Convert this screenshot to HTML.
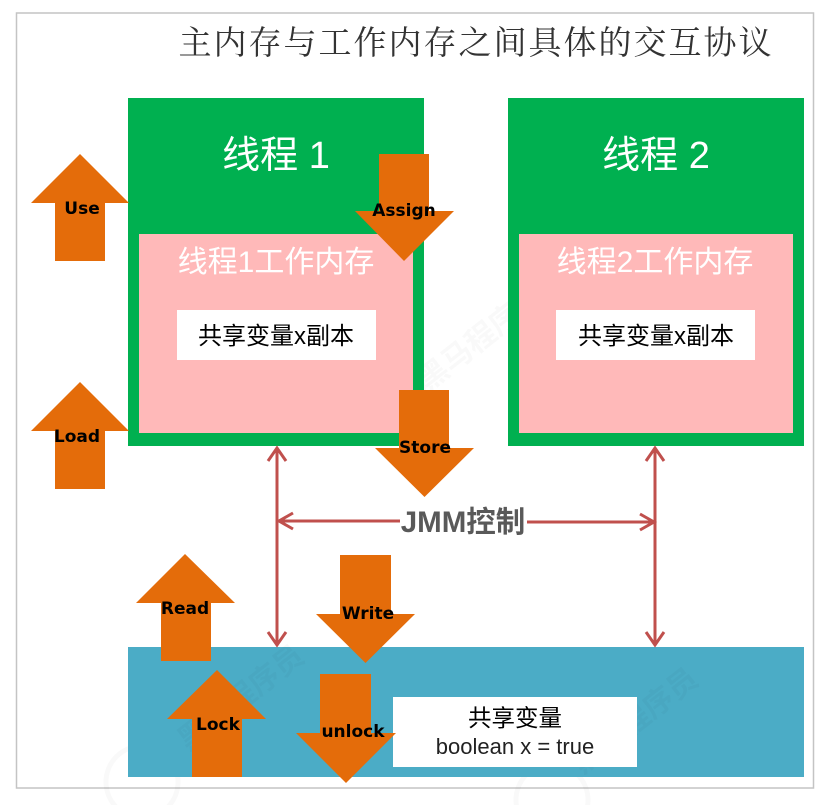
<!DOCTYPE html>
<html lang="zh">
<head>
<meta charset="utf-8">
<style>
html,body{margin:0;padding:0;background:#fff;width:830px;height:805px;overflow:hidden}
svg{display:block}
text{font-family:"Liberation Sans","Noto Sans CJK SC",sans-serif}
.lb{font-size:17px;font-weight:bold;fill:#000;text-anchor:middle;font-family:"DejaVu Sans","Liberation Sans",sans-serif}
.m{text-anchor:middle}
</style>
</head>
<body>
<svg width="830" height="805" viewBox="0 0 830 805" xmlns="http://www.w3.org/2000/svg">
<rect x="16.500" y="13" width="797" height="775" fill="#fff" stroke="#c4c4c4" stroke-width="1.500"/>
<text x="476" y="54" class="m" font-size="33" fill="#333" style="font-family:'Noto Serif CJK SC','Liberation Serif',serif;letter-spacing:2px">主内存与工作内存之间具体的交互协议</text>

<g opacity="0.5">
<circle cx="388" cy="395" r="36" fill="none" stroke="#000" stroke-opacity="0.05" stroke-width="5"/>
<text transform="translate(428,392) rotate(-38)" font-size="30" font-weight="bold" fill="#000" fill-opacity="0.05">黑马程序员</text>
<circle cx="552" cy="800" r="36" fill="none" stroke="#000" stroke-opacity="0.05" stroke-width="5"/>
<circle cx="142" cy="782" r="36" fill="none" stroke="#000" stroke-opacity="0.05" stroke-width="5"/>
</g>

<rect x="128" y="98" width="296" height="348" fill="#00b050"/>
<rect x="139" y="234" width="274" height="199" fill="#ffb9b9"/>
<text x="276" y="168" class="m" font-size="38" fill="#fff">线程 1</text>
<text x="276" y="272" class="m" font-size="30" fill="#fff">线程1工作内存</text>
<rect x="177" y="310" width="199" height="50" fill="#fff"/>
<text x="276" y="344" class="m" font-size="24" fill="#000">共享变量x副本</text>

<rect x="508" y="98" width="296" height="348" fill="#00b050"/>
<rect x="519" y="234" width="274" height="199" fill="#ffb9b9"/>
<text x="656" y="168" class="m" font-size="38" fill="#fff">线程 2</text>
<text x="655" y="272" class="m" font-size="30" fill="#fff">线程2工作内存</text>
<rect x="556" y="310" width="199" height="50" fill="#fff"/>
<text x="656" y="344" class="m" font-size="24" fill="#000">共享变量x副本</text>

<rect x="128" y="647" width="676" height="130" fill="#4bacc6"/>
<g fill="#000" fill-opacity="0.025" font-size="30" font-weight="bold">
<text transform="translate(188,752) rotate(-38)">黑马程序员</text>
<text transform="translate(582,775) rotate(-38)">黑马程序员</text>
</g>
<rect x="393" y="697" width="244" height="70" fill="#fff"/>
<text x="515" y="726" class="m" font-size="23.500" fill="#000">共享变量</text>
<text x="515" y="754" class="m" font-size="22" fill="#222">boolean x = true</text>

<g stroke="#c0504d" stroke-width="3" fill="none">
<path d="M277 448V645M268 461L277 448L286 461M268 632L277 645L286 632"/>
<path d="M655 448V645M646 461L655 448L664 461M646 632L655 645L664 632"/>
<path d="M279 521H400M293 513L279 521L293 529"/>
<path d="M527 522H654M640 514L654 522L640 530"/>
</g>
<text x="463" y="532" class="m" font-size="29.500" font-weight="bold" fill="#595959">JMM控制</text>

<g fill="#e46c0a">
<polygon points="80,154 129,203 105,203 105,261 55,261 55,203 31,203"/>
<polygon points="80,382 129,431 105,431 105,489 55,489 55,431 31,431"/>
<polygon points="185,554 235,603 211,603 211,661 161,661 161,603 136,603"/>
<polygon points="217,670 266,719 242,719 242,777 192,777 192,719 167,719"/>
<polygon points="379,154 429,154 429,211 454,211 404,261 355,211 379,211"/>
<polygon points="399,390 449,390 449,448 474,448 424.500,497 375,448 399,448"/>
<polygon points="340,555 391,555 391,614 415,614 365.500,663 316,614 340,614"/>
<polygon points="320,674 371,674 371,733 396,733 346,783 296,733 320,733"/>
</g>
<text x="82" y="214" class="lb">Use</text>
<text x="77" y="442" class="lb">Load</text>
<text x="185" y="614" class="lb">Read</text>
<text x="218" y="730" class="lb">Lock</text>
<text x="404" y="216" class="lb">Assign</text>
<text x="425" y="453" class="lb">Store</text>
<text x="368" y="619" class="lb">Write</text>
<text x="353" y="737" class="lb">unlock</text>
</svg>
</body>
</html>
